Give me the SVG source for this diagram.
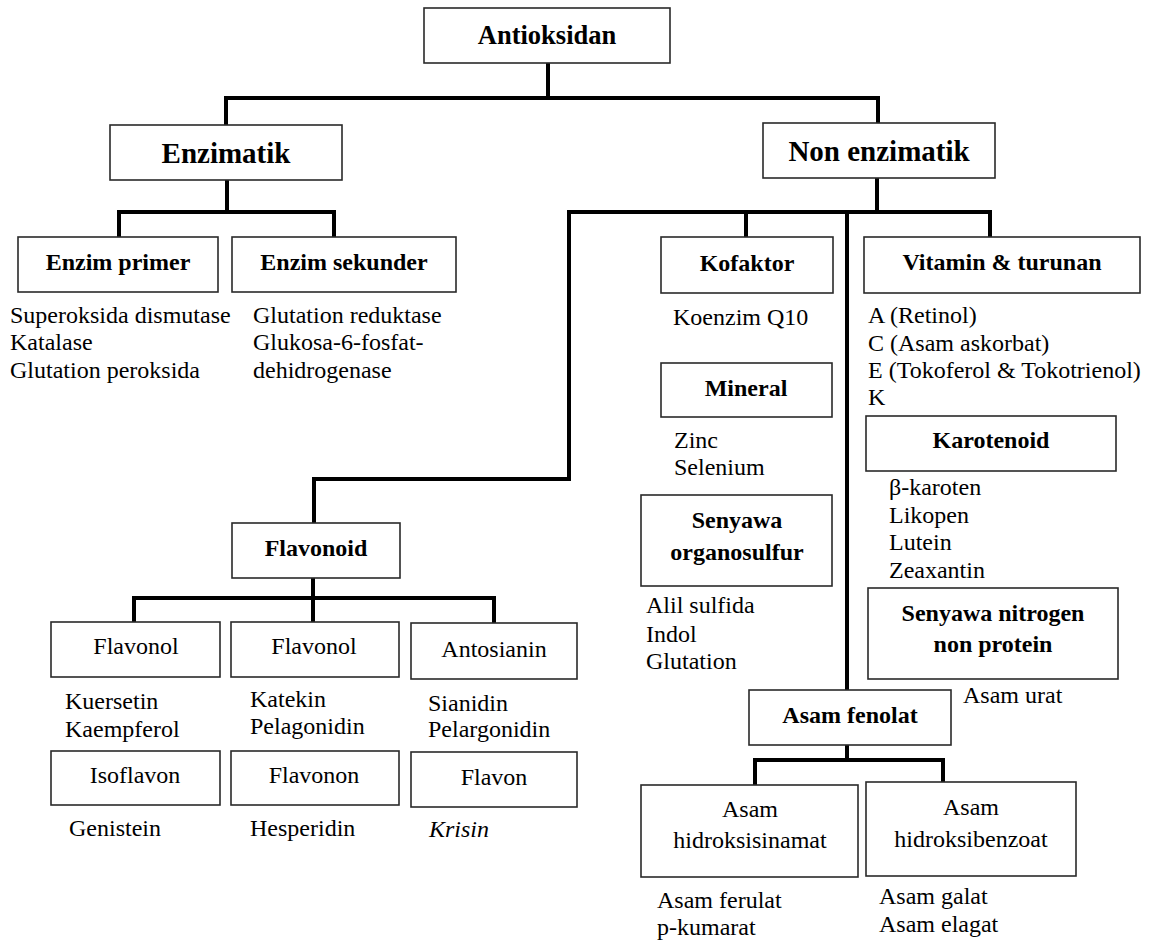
<svg xmlns="http://www.w3.org/2000/svg" width="1152" height="940" viewBox="0 0 1152 940" font-family="'Liberation Serif', 'Times New Roman', Tinos, 'DejaVu Serif', serif">
  <style>
    .box { fill: #ffffff; stroke: #2a2a2a; stroke-width: 1.6; }
    .link { fill: none; stroke: #000000; stroke-width: 4; stroke-linejoin: miter; stroke-linecap: square; }
    text { fill: #000000; }
    .h1 { font-size: 29px; font-weight: bold; text-anchor: middle; }
    .h2 { font-size: 24px; font-weight: bold; text-anchor: middle; }
    .lbl { font-size: 24px; text-anchor: middle; }
    .item { font-size: 24px; }
  </style>
  <rect width="1152" height="940" fill="#ffffff"/>

  <!-- connectors -->
  <g id="connectors">
    <path class="link" d="M548 63 V98 M226 98 H878 M226 98 V125 M878 98 V123"/>
    <path class="link" d="M227 180 V212 M119 212 H334 M119 212 V237 M334 212 V237"/>
    <path class="link" d="M877 178 V212 M569 212 H990 M746 212 V237 M990 212 V237"/>
    <path class="link" d="M569 212 V479 H314 V523"/>
    <path class="link" d="M847 212 V690"/>
    <path class="link" d="M313 578 V598 M134 598 H494 M134 598 V622 M313 598 V622 M494 598 V623"/>
    <path class="link" d="M847 745 V760 M755 760 H943 M755 760 V784 M943 760 V782"/>
  </g>

  <!-- root -->
  <g id="antioksidan">
    <rect class="box" x="424" y="8" width="246" height="55"/>
    <text class="h2" x="547" y="44" style="font-size:26.5px">Antioksidan</text>
  </g>

  <!-- enzymatic branch -->
  <g id="enzimatik">
    <rect class="box" x="110" y="125" width="232" height="55"/>
    <text class="h1" x="226" y="163">Enzimatik</text>
  </g>
  <g id="enzim-primer">
    <rect class="box" x="18" y="237" width="200" height="55"/>
    <text class="h2" x="118" y="270">Enzim primer</text>
    <text class="item" x="10" y="323">Superoksida dismutase</text>
    <text class="item" x="10" y="350">Katalase</text>
    <text class="item" x="10" y="378">Glutation peroksida</text>
  </g>
  <g id="enzim-sekunder">
    <rect class="box" x="232" y="237" width="224" height="55"/>
    <text class="h2" x="344" y="270">Enzim sekunder</text>
    <text class="item" x="253" y="323">Glutation reduktase</text>
    <text class="item" x="253" y="350">Glukosa-6-fosfat-</text>
    <text class="item" x="253" y="378">dehidrogenase</text>
  </g>

  <!-- non-enzymatic branch -->
  <g id="non-enzimatik">
    <rect class="box" x="763" y="123" width="232" height="55"/>
    <text class="h1" x="879" y="161">Non enzimatik</text>
  </g>
  <g id="kofaktor">
    <rect class="box" x="661" y="237" width="172" height="56"/>
    <text class="h2" x="747" y="271">Kofaktor</text>
    <text class="item" x="673" y="325">Koenzim Q10</text>
  </g>
  <g id="mineral">
    <rect class="box" x="661" y="363" width="171" height="54"/>
    <text class="h2" x="746" y="396">Mineral</text>
    <text class="item" x="674" y="448">Zinc</text>
    <text class="item" x="674" y="475">Selenium</text>
  </g>
  <g id="organosulfur">
    <rect class="box" x="641" y="495" width="191" height="91"/>
    <text class="h2" x="737" y="528">Senyawa</text>
    <text class="h2" x="737" y="560">organosulfur</text>
    <text class="item" x="646" y="613">Alil sulfida</text>
    <text class="item" x="646" y="642">Indol</text>
    <text class="item" x="646" y="669">Glutation</text>
  </g>
  <g id="vitamin">
    <rect class="box" x="864" y="237" width="276" height="56"/>
    <text class="h2" x="1002" y="270">Vitamin &amp; turunan</text>
    <text class="item" x="868" y="323">A (Retinol)</text>
    <text class="item" x="868" y="351">C (Asam askorbat)</text>
    <text class="item" x="868" y="378">E (Tokoferol &amp; Tokotrienol)</text>
    <text class="item" x="868" y="405">K</text>
  </g>
  <g id="karotenoid">
    <rect class="box" x="866" y="416" width="250" height="55"/>
    <text class="h2" x="991" y="448">Karotenoid</text>
    <text class="item" x="889" y="495">β-karoten</text>
    <text class="item" x="889" y="523">Likopen</text>
    <text class="item" x="889" y="550">Lutein</text>
    <text class="item" x="889" y="578">Zeaxantin</text>
  </g>
  <g id="nitrogen-non-protein">
    <rect class="box" x="868" y="588" width="250" height="91"/>
    <text class="h2" x="993" y="621">Senyawa nitrogen</text>
    <text class="h2" x="993" y="652">non protein</text>
    <text class="item" x="963" y="703">Asam urat</text>
  </g>

  <!-- phenolic acids -->
  <g id="asam-fenolat">
    <rect class="box" x="749" y="690" width="202" height="55"/>
    <text class="h2" x="850" y="723">Asam fenolat</text>
  </g>
  <g id="hidroksisinamat">
    <rect class="box" x="641" y="785" width="217" height="92"/>
    <text class="lbl" x="750" y="817">Asam</text>
    <text class="lbl" x="750" y="848">hidroksisinamat</text>
    <text class="item" x="657" y="908">Asam ferulat</text>
    <text class="item" x="657" y="935">p-kumarat</text>
  </g>
  <g id="hidroksibenzoat">
    <rect class="box" x="866" y="782" width="210" height="94"/>
    <text class="lbl" x="971" y="815">Asam</text>
    <text class="lbl" x="971" y="847">hidroksibenzoat</text>
    <text class="item" x="879" y="904">Asam galat</text>
    <text class="item" x="879" y="932">Asam elagat</text>
  </g>

  <!-- flavonoids -->
  <g id="flavonoid">
    <rect class="box" x="232" y="523" width="168" height="55"/>
    <text class="h2" x="316" y="556">Flavonoid</text>
  </g>
  <g id="flavonol-1">
    <rect class="box" x="51" y="622" width="169" height="55"/>
    <text class="lbl" x="136" y="654">Flavonol</text>
    <text class="item" x="65" y="709">Kuersetin</text>
    <text class="item" x="65" y="737">Kaempferol</text>
  </g>
  <g id="flavonol-2">
    <rect class="box" x="231" y="622" width="168" height="55"/>
    <text class="lbl" x="314" y="654">Flavonol</text>
    <text class="item" x="250" y="707">Katekin</text>
    <text class="item" x="250" y="734">Pelagonidin</text>
  </g>
  <g id="antosianin">
    <rect class="box" x="411" y="623" width="166" height="56"/>
    <text class="lbl" x="494" y="657">Antosianin</text>
    <text class="item" x="428" y="711">Sianidin</text>
    <text class="item" x="428" y="737">Pelargonidin</text>
  </g>
  <g id="isoflavon">
    <rect class="box" x="51" y="751" width="169" height="54"/>
    <text class="lbl" x="135" y="783">Isoflavon</text>
    <text class="item" x="69" y="836">Genistein</text>
  </g>
  <g id="flavonon">
    <rect class="box" x="231" y="751" width="168" height="54"/>
    <text class="lbl" x="314" y="783">Flavonon</text>
    <text class="item" x="250" y="836">Hesperidin</text>
  </g>
  <g id="flavon">
    <rect class="box" x="411" y="752" width="166" height="55"/>
    <text class="lbl" x="494" y="785">Flavon</text>
    <text class="item" x="429" y="837" font-style="italic">Krisin</text>
  </g>
</svg>
